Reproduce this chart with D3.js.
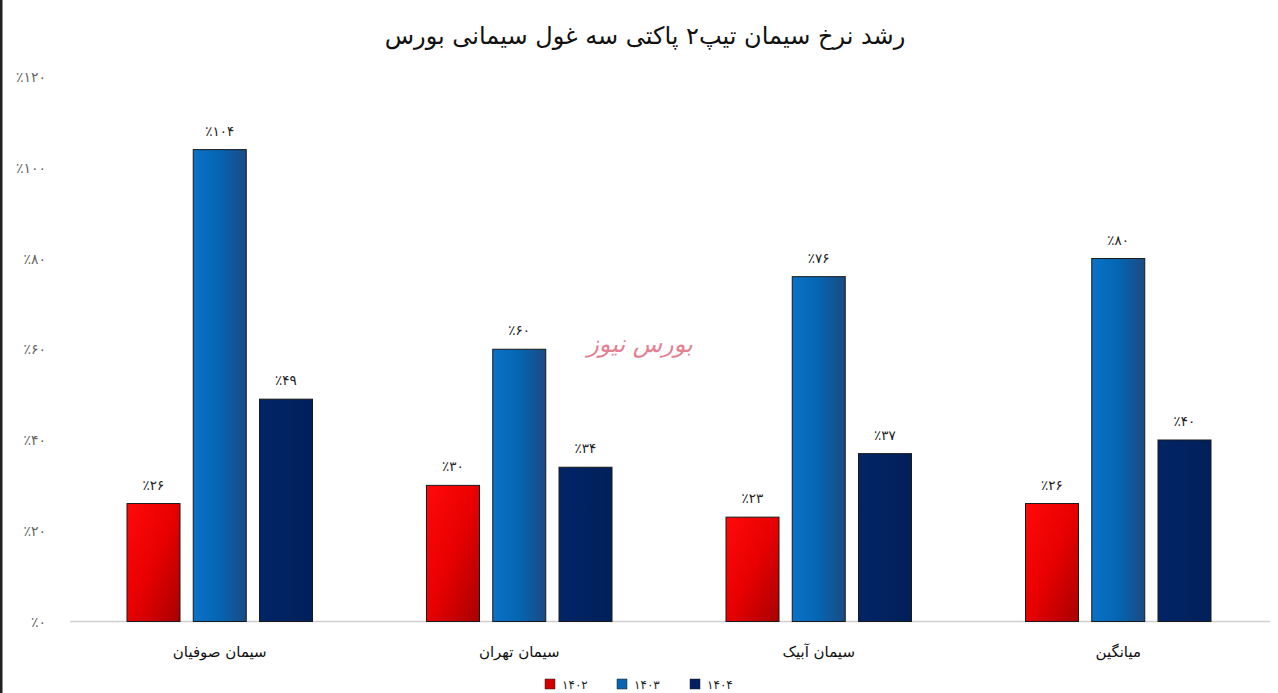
<!DOCTYPE html>
<html><head><meta charset="utf-8">
<script src="https://cdn.jsdelivr.net/npm/d3@7"></script>
<style>
html,body{margin:0;padding:0;background:#fff;overflow:hidden}
svg{display:block}
text{font-family:"DejaVu Sans","Noto Sans",sans-serif}
</style></head>
<body><svg id="c" width="1278" height="693"></svg>
<script>
const title = "رشد نرخ سیمان تیپ۲ پاکتی سه غول سیمانی بورس";
const categories = ["سیمان صوفیان","سیمان تهران","سیمان آبیک","میانگین"];
const seriesNames = ["۱۴۰۲","۱۴۰۳","۱۴۰۴"];
const s1402 = [26,30,23,26];
const s1403 = [104,60,76,80];
const s1404 = [49,34,37,40];
const yTicks = [0,20,40,60,80,100,120];
const watermark = "بورس نیوز";

const series = [s1402,s1403,s1404];
const fa = n => String(n).replace(/\d/g, d => "۰۱۲۳۴۵۶۷۸۹"[d]);
const pct = n => "٪" + fa(n);

const svg = d3.select("#c");
const W = 1278, H = 693;
const x0 = d3.scaleBand().domain(categories).range([70,1268]).paddingInner(0).paddingOuter(0);
const x1 = d3.scaleBand().domain(seriesNames).range([57, x0.bandwidth()-57]).paddingInner(0.2);
const y = d3.scaleLinear().domain([0,120]).range([621.5,77]);

const defs = svg.append("defs");
const g1 = defs.append("linearGradient").attr("id","gRed").attr("x1","0").attr("y1","0").attr("x2","1").attr("y2","1");
g1.append("stop").attr("offset","0").attr("stop-color","#ff0a0a");
g1.append("stop").attr("offset","0.5").attr("stop-color","#e80000");
g1.append("stop").attr("offset","1").attr("stop-color","#a80000");
const g2 = defs.append("linearGradient").attr("id","gBlue").attr("x1","0").attr("y1","0").attr("x2","1").attr("y2","0");
g2.append("stop").attr("offset","0").attr("stop-color","#0a72c8");
g2.append("stop").attr("offset","0.5").attr("stop-color","#0565b2");
g2.append("stop").attr("offset","1").attr("stop-color","#1b4a82");
const g3 = defs.append("linearGradient").attr("id","gNavy").attr("x1","0").attr("y1","0").attr("x2","1").attr("y2","0");
g3.append("stop").attr("offset","0").attr("stop-color","#022466");
g3.append("stop").attr("offset","1").attr("stop-color","#01205a");
const fills = ["url(#gRed)","url(#gBlue)","url(#gNavy)"];
const legendFills = ["#d00000","#0a65b0","#002060"];

// left border
svg.append("rect").attr("x",0).attr("y",0).attr("width",2.5).attr("height",H).attr("fill","#222");

// title
svg.append("text").attr("x",645).attr("y",44).attr("text-anchor","middle")
  .attr("direction","rtl").attr("font-size",24).attr("fill","#111").text(title);

// y labels
svg.append("g").selectAll("text").data(yTicks).join("text")
  .attr("x",46).attr("y",d=>y(d)+5).attr("text-anchor","end")
  .attr("font-size",14).attr("fill","#666").attr("direction","ltr").text(d=>pct(d));

// baseline
svg.append("line").attr("x1",70).attr("x2",1270).attr("y1",y(0)).attr("y2",y(0))
  .attr("stroke","#d0d0d0").attr("stroke-width",1.5);

// bars
const gg = svg.append("g").selectAll("g").data(categories).join("g")
  .attr("transform",d=>`translate(${x0(d)},0)`);
gg.selectAll("rect").data((d,i)=>series.map((s,j)=>({k:seriesNames[j],v:s[i],j})))
  .join("rect")
  .attr("x",d=>x1(d.k)).attr("width",x1.bandwidth())
  .attr("y",d=>y(d.v)).attr("height",d=>y(0)-y(d.v))
  .attr("fill",d=>fills[d.j]).attr("stroke","#1a1a1a").attr("stroke-width",1);
gg.selectAll("text.v").data((d,i)=>series.map((s,j)=>({k:seriesNames[j],v:s[i],j})))
  .join("text").attr("class","v")
  .attr("x",d=>x1(d.k)+x1.bandwidth()/2).attr("y",d=>y(d.v)-14)
  .attr("text-anchor","middle").attr("font-size",13.5).attr("fill","#222")
  .attr("direction","ltr").text(d=>pct(d.v));

// category labels
svg.append("g").selectAll("text").data(categories).join("text")
  .attr("x",d=>x0(d)+x0.bandwidth()/2).attr("y",657).attr("text-anchor","middle")
  .attr("direction","rtl").attr("font-size",15).attr("fill","#111").text(d=>d);

// watermark
svg.append("text").attr("x",640).attr("y",352).attr("text-anchor","middle")
  .attr("direction","rtl").attr("font-size",24).attr("font-style","italic")
  .attr("fill","#e06a7e").attr("opacity",0.85).text(watermark);

// legend
const lx = [545,617,690];
const lg = svg.append("g").selectAll("g").data(seriesNames).join("g")
  .attr("transform",(d,i)=>`translate(${lx[i]},679)`);
lg.append("rect").attr("width",10).attr("height",10).attr("fill",(d,i)=>legendFills[i])
  .attr("stroke","#222").attr("stroke-width",0.5);
lg.append("text").attr("x",17).attr("y",10).attr("font-size",12).attr("fill","#222")
  .attr("direction","ltr").text(d=>d);
</script></body></html>
